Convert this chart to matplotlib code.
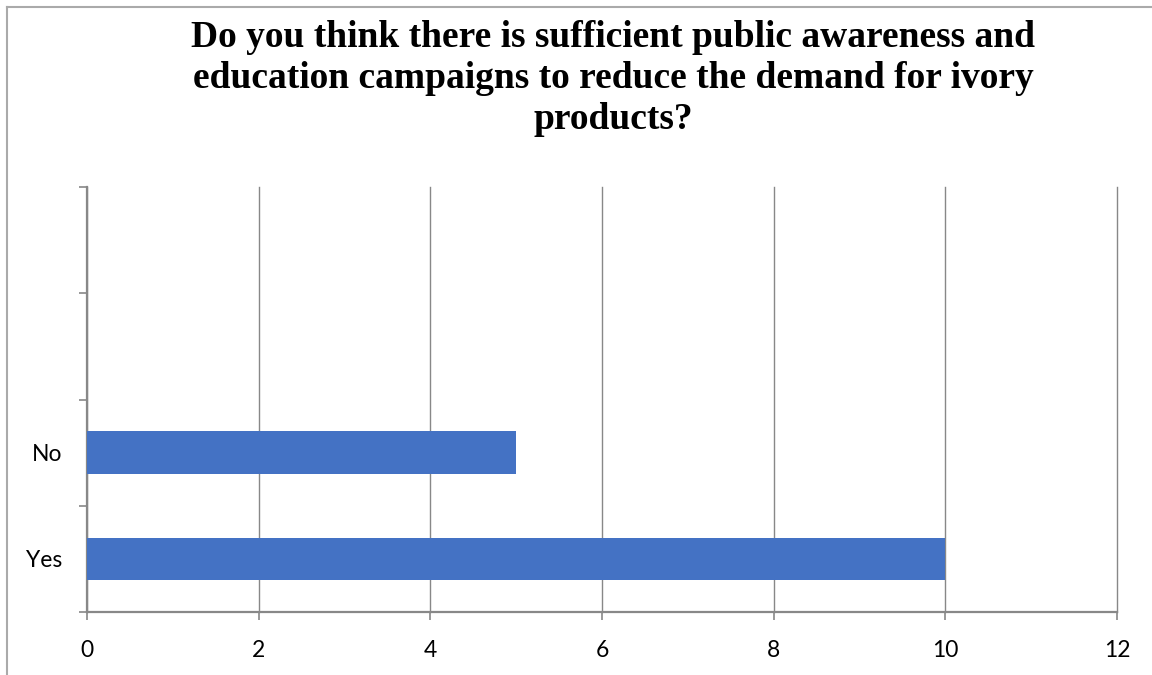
import matplotlib
matplotlib.use("Agg")
import matplotlib.pyplot as plt
from matplotlib.lines import Line2D

# Survey answers, bottom slot first; the two top slots are empty
categories = ["Yes", "No", "", ""]
counts = [10, 5, 0, 0]
x_ticks = [0, 2, 4, 6, 8, 10, 12]

title = ("Do you think there is sufficient public awareness and\n"
         "education campaigns to reduce the demand for ivory\n"
         "products?")

W, H = 1152, 675
fig = plt.figure(figsize=(W / 100, H / 100), dpi=100)
ax = fig.add_axes([87 / W, 1 - 612 / H, (1117 - 87) / W, (612 - 187) / H])

pos = list(range(len(categories)))
ax.barh(pos[:2], counts[:2], height=0.4, color="#4472C4", zorder=3)

ax.set_xlim(0, 12)
ax.set_ylim(-0.5, len(categories) - 0.5)
ax.set_xticks(x_ticks)
ax.set_xticklabels([str(t) for t in x_ticks], fontsize=16.5, family="Lato")
ax.set_yticks(pos)
ax.set_yticklabels(categories, fontsize=16.5, family="Lato")
# category boundary ticks between slots
ax.set_yticks([p - 0.5 for p in pos] + [len(pos) - 0.5], minor=True)
ax.tick_params(axis="y", which="major", length=0, pad=18)
ax.tick_params(axis="y", which="minor", length=6, color="#888888", width=1.2)
ax.tick_params(axis="x", length=6, color="#888888", width=1.2, pad=14)

ax.grid(axis="x", color="#888888", linewidth=1.0, zorder=0)
for gl in ax.get_xgridlines():
    gl.set_clip_on(False)
for side in ["top", "right"]:
    ax.spines[side].set_visible(False)
for side in ["left", "bottom"]:
    ax.spines[side].set_color("#888888")
    ax.spines[side].set_linewidth(1.6)

fig.text(613 / W, 1 - 20 / H, title, ha="center", va="top",
         fontsize=27, fontweight="bold", family="Liberation Serif",
         linespacing=1.22)

# outer frame: top and left edges
fig.add_artist(Line2D([7 / W, 1], [1 - 7 / H, 1 - 7 / H], color="#aaaaaa",
                      linewidth=1.5, transform=fig.transFigure))
fig.add_artist(Line2D([7 / W, 7 / W], [0, 1 - 7 / H], color="#aaaaaa",
                      linewidth=1.5, transform=fig.transFigure))

fig.savefig("out.png", dpi=100)
